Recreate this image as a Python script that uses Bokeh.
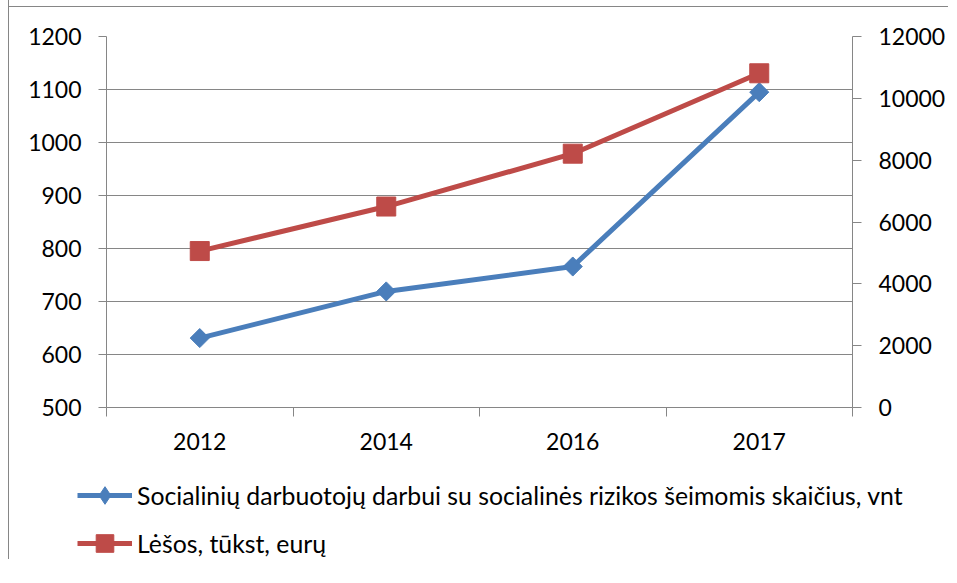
from bokeh.plotting import figure
from bokeh.models import (Range1d, LinearAxis, FixedTicker, Legend, LegendItem, ColumnDataSource)
from bokeh.layouts import column
from bokeh.embed import file_html
from bokeh.resources import INLINE
import math

years = ["2012", "2014", "2016", "2017"]
workers = [631, 719, 766, 1095]
funds = [5060, 6500, 8210, 10810]
left_ticks = [500, 600, 700, 800, 900, 1000, 1100, 1200]
right_ticks = [0, 2000, 4000, 6000, 8000, 10000, 12000]
name_workers = "Socialinių darbuotojų darbui su socialinės rizikos šeimomis skaičius, vnt"
name_funds = "Lėšos, tūkst, eurų"

BLUE = "#4A7EBB"
RED = "#BE4B48"
GRID = "#868686"
FONT = "Lato"
FS = "23px"
LFS = "24.8px"

xs = [i + 0.5 for i in range(len(years))]

p = figure(width=939, height=462, output_backend="svg", toolbar_location=None,
           x_range=Range1d(0, len(years)), y_range=Range1d(500, 1200),
           min_border_left=97, min_border_top=36, min_border_right=86,
           min_border_bottom=55)
p.outline_line_color = None
p.background_fill_color = "white"
p.border_fill_color = None

p.extra_y_ranges = {"r": Range1d(0, 12000)}

# x axis
p.xaxis.ticker = FixedTicker(ticks=xs, minor_ticks=list(range(len(years) + 1)))
p.xaxis.major_label_overrides = {x: y for x, y in zip(xs, years)}
p.xaxis.major_tick_out = 0
p.xaxis.major_tick_in = 0
p.xaxis.minor_tick_out = 9
p.xaxis.minor_tick_in = 0
p.xaxis.minor_tick_line_color = GRID
p.xaxis.axis_line_color = GRID
p.xaxis.major_label_standoff = 16
p.xgrid.visible = False

# left axis
p.yaxis.ticker = FixedTicker(ticks=left_ticks)
p.yaxis.major_tick_out = 8
p.yaxis.major_tick_in = 0
p.yaxis.minor_tick_line_color = None
p.yaxis.axis_line_color = GRID
p.yaxis.major_tick_line_color = GRID
p.yaxis.major_label_standoff = 17
p.ygrid.ticker = FixedTicker(ticks=left_ticks)
p.ygrid.grid_line_color = GRID
p.ygrid.grid_line_width = 1

# right axis
ra = LinearAxis(y_range_name="r", ticker=FixedTicker(ticks=right_ticks))
ra.major_tick_out = 9
ra.major_tick_in = 0
ra.minor_tick_line_color = None
ra.axis_line_color = GRID
ra.major_tick_line_color = GRID
ra.major_label_standoff = 17
p.add_layout(ra, "right")

for ax in [p.xaxis[0], p.yaxis[0], ra]:
    ax.major_label_text_font = FONT
    ax.major_label_text_font_size = FS
    ax.major_label_text_color = "black"

p.line(xs, workers, line_color=BLUE, line_width=5)
p.scatter(xs, workers, marker="square", angle=math.pi / 4, size=13.5,
          fill_color=BLUE, line_color=BLUE)
p.line(xs, funds, y_range_name="r", line_color=RED, line_width=5)
p.scatter(xs, funds, y_range_name="r", marker="square", size=19, fill_color=RED, line_color=RED)

# legend strip (same series styles, legend only)
p2 = figure(width=939, height=97, output_backend="svg", toolbar_location=None,
            x_axis_type=None, y_axis_type=None, min_border=0,
            x_range=Range1d(0, 1), y_range=Range1d(0, 1))
if "frame_align" in p2.properties():
    p2.frame_align = False
p2.outline_line_color = None
p2.grid.visible = False
p2.background_fill_color = "white"
p2.border_fill_color = "white"
nan = float("nan")
blank = ColumnDataSource(data=dict(x=[nan], y=[nan]))
l1 = p2.line("x", "y", source=blank, line_color=BLUE, line_width=5)
m1 = p2.scatter("x", "y", source=blank, marker="diamond", size=20, fill_color=BLUE, line_color=BLUE)
l2 = p2.line("x", "y", source=blank, line_color=RED, line_width=5)
m2 = p2.scatter("x", "y", source=blank, marker="square", size=19, fill_color=RED, line_color=RED)

legend = Legend(items=[LegendItem(label=name_workers, renderers=[l1, m1]),
                       LegendItem(label=name_funds, renderers=[l2, m2])],
                location=(68, -6), orientation="vertical",
                glyph_width=55, glyph_height=44, label_height=30, spacing=4,
                label_standoff=5, padding=0, margin=0,
                border_line_color=None, background_fill_alpha=0,
                label_text_font=FONT, label_text_font_size=LFS,
                label_text_color="black")
p2.add_layout(legend, "center")

layout = column(p, p2, spacing=0)
layout.styles = {"border-left": "1px solid #868686", "position": "relative", "left": "8px",
                 "background": "white linear-gradient(#868686, #868686) 0 6px / 100% 1px no-repeat"}

open("out.html", "w").write(file_html(layout, INLINE))
